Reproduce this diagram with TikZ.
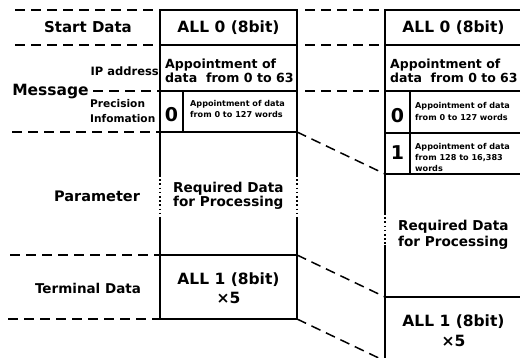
\documentclass[tikz,border=0pt]{standalone}
\usepackage{fontspec}
\newfontfamily\gothic{DejaVu Sans Bold}
\usetikzlibrary{positioning}
\usetikzlibrary{calc}
\newcommand\gfs[2]{\gothic\fontsize{#1}{#2}\selectfont}

\tikzset{
  frame/.style={line width=1.6pt, line cap=rect},
  sepline/.style={line width=1.5pt, dash pattern=on 10pt off 6pt},
  brk/.style={line width=1.6pt, dash pattern=on 1.6pt off 2.6pt},
  txt/.style={inner sep=0pt},
}

\begin{document}
\begin{tikzpicture}[x=1pt,y=-1pt]
  \useasboundingbox (0,0) rectangle (520,358);

  %left frame
  \foreach \y in {10,45,91,132,255,319}
    \draw[frame] (160,\y) -- (297,\y);
  \draw[frame] (160,10) -- (160,175) (160,218) -- (160,319);
  \draw[frame] (297,10) -- (297,175) (297,218) -- (297,319);
  \draw[brk] (160,175) -- (160,218) (297,175) -- (297,218);
  \draw[frame] (183,91) -- (183,132);

  %right frame
  \foreach \y in {10,45,91,133,174,297,361}
    \draw[frame] (385,\y) -- (522,\y);
  \draw[frame] (385,10) -- (385,213) (385,246) -- (385,361);
  \draw[brk] (385,213) -- (385,246);
  \draw[frame] (522,10) -- (522,361);
  \draw[frame] (410,91) -- (410,174);

  %dashed separators
  \draw[sepline] (15,10) -- (160,10) (305,10) -- (385,10);
  \draw[sepline] (15,45) -- (160,45) (305,45) -- (385,45);
  \draw[sepline] (93,91) -- (160,91) (305,91) -- (385,91);
  \draw[sepline] (12,132) -- (160,132);
  \draw[sepline] (10,255) -- (160,255);
  \draw[sepline] (8,319) -- (160,319);

  % slanted links between the frames
  \coordinate (lprec) at (297,132);
  \coordinate (rprec) at (385,174);
  \coordinate (lterm) at (297,255);
  \coordinate (rterm) at (385,297);
  \coordinate (lend) at (297,319);
  \coordinate (rend) at (385,361);
  \draw[sepline] (lprec) -- (rprec);
  \draw[sepline] (lterm) -- (rterm);
  \draw[sepline] (lend) -- (rend);

  %row labels
  \node[txt, anchor=base, font=\gfs{15}{18}] (start) at (88,33) {Start Data};
  \node[txt, anchor=base, font=\gfs{15.5}{18}] (msg) at (50.5,96) {Message};
  \node[txt, anchor=base east, font=\gfs{11.5}{14}] (ip) at (159,76) {IP address};
  \node[txt, anchor=west, align=left, font=\gfs{10.6}{15}] (prec) at (90,111.5) {Precision\\Infomation};
  \node[txt, anchor=base, font=\gfs{14.5}{18}] (param) at (97,202) {Parameter};
  \node[txt, anchor=base, font=\gfs{13.5}{18}] (term) at (88,294) {Terminal Data};

  %left frame texts
  \node[txt, anchor=base, font=\gfs{15.5}{18}] (lall0) at (228.5,33) {ALL 0 (8bit)};
  \node[txt, anchor=west, align=left, font=\gfs{12.6}{14}] (lip) at (165,70.5) {Appointment of\\data\ \ from 0 to 63};
  \node[txt, anchor=base, font=\gfs{19}{20}] (lzero) at (171.5,122) {0};
  \node[txt, anchor=west, align=left, font=\gfs{8.1}{11}] (lwords) at (190,109) {Appointment of data\\from 0 to 127 words};
  \node[txt, anchor=west, align=left, font=\gfs{13.6}{14}] (lreq) at (173,196) {Required Data\\for Processing};
  \node[txt, align=center, font=\gfs{15.5}{19}] (lall1) at (228.5,288) {ALL 1 (8bit)\\×5};

  %right frame texts
  \node[txt, anchor=base, font=\gfs{15.5}{18}] (rall0) at (453.5,33) {ALL 0 (8bit)};
  \node[txt, anchor=west, align=left, font=\gfs{12.5}{14}] (rip) at (390,70.5) {Appointment of\\data\ \ from 0 to 63};
  \node[txt, anchor=base, font=\gfs{19}{20}] (rzero) at (397.5,123) {0};
  \node[txt, anchor=west, align=left, font=\gfs{8.1}{11.5}] (rwords) at (415,111.5) {Appointment of data\\from 0 to 127 words};
  \node[txt, anchor=base, font=\gfs{19}{20}] (rone) at (397.5,160) {1};
  \node[txt, anchor=west, align=left, font=\gfs{8.1}{11}] (rwordsb) at (415,157.5) {Appointment of data\\from 128 to 16,383\\words};
  \node[txt, anchor=west, align=left, font=\gfs{13.6}{16}] (rreq) at (398,234.5) {Required Data\\for Processing};
  \node[txt, align=center, font=\gfs{15.5}{20}] (rall1) at (453.5,330.5) {ALL 1 (8bit)\\×5};
\end{tikzpicture}
\end{document}
